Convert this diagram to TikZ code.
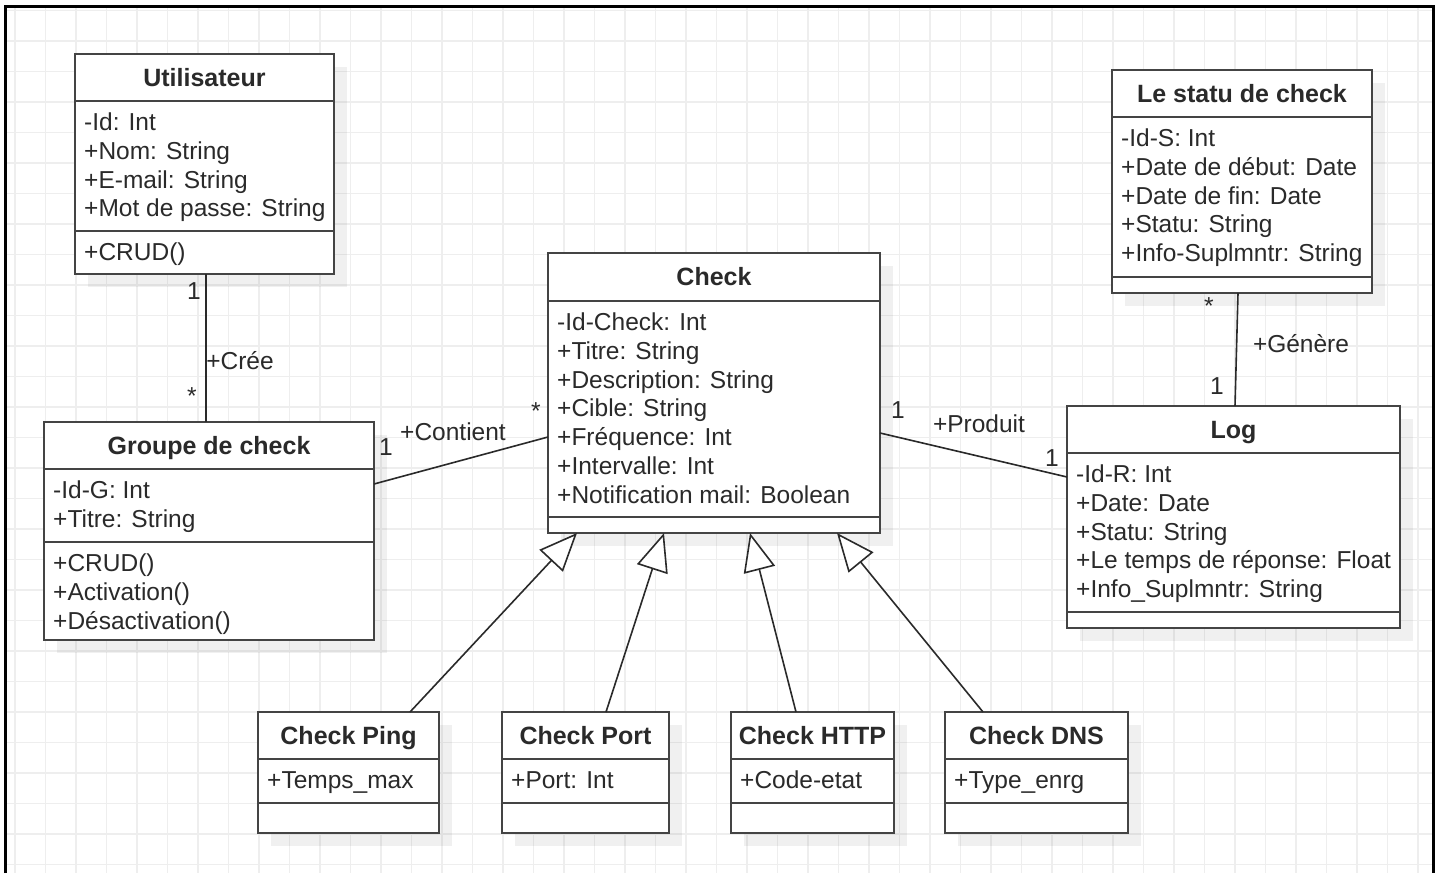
\documentclass[tikz,border=0pt]{standalone}
\usepackage{fontspec}
\setmainfont{Liberation Sans}
\usetikzlibrary{arrows.meta}

\definecolor{ink}{HTML}{2A2A2A}
\definecolor{edge}{HTML}{444444}
\definecolor{gridc}{HTML}{EEEEEE}

\tikzset{
  classbox/.style={draw=edge, line width=2.2pt, fill=white, anchor=north west, inner sep=0pt, outer sep=0pt},
  shadowbox/.style={fill=black, opacity=0.06},
  divider/.style={draw=edge, line width=2.2pt},
  titletext/.style={font=\fontsize{25}{30}\selectfont\bfseries, text=ink, anchor=base, inner sep=0pt},
  rowtext/.style={font=\fontsize{24.5}{29}\selectfont, text=ink, anchor=base west, inner sep=0pt},
  lbl/.style={font=\fontsize{24.5}{29}\selectfont, text=ink, inner sep=0pt},
  assoc/.style={draw=ink, line width=1.6pt},
  generalize/.style={draw=ink, line width=1.6pt,
    -{Triangle[length=38pt, width=32pt, fill=white, line width=1.6pt]}},
  gridline/.style={draw=gridc, line width=1.6pt},
  frameline/.style={draw=black, line width=3pt},
}

% class box: name, left, top, right, bottom, first divider, second divider, title
\newcommand\umlbox[8]{%
  \fill[shadowbox] (#2+13,#3+13) rectangle (#4+13,#5+13);
  \node[classbox, minimum width={(#4-#2)*1pt}, minimum height={(#5-#3)*1pt}] (#1) at (#2,#3) {};
  \draw[divider] (#2,#6) -- (#4,#6);
  \draw[divider] (#2,#7) -- (#4,#7);
  \node[titletext] (#1-title) at ({(#2+#4)/2},{(#3+#6)/2+8.5}) {#8};
}
% compartment rows: name prefix, box left, compartment top, list of rows
\newcommand\umlrows[4]{%
  \foreach \txt [count=\i] in {#4} {\node[rowtext] (#1\i) at (#2+9, {#3+29.5+(\i-1)*28.8}) {\txt};}
}

\begin{document}
\begin{tikzpicture}[x=1pt, y=-1pt]
\useasboundingbox (0,0) rectangle (1440,873);
\fill[white] (0,0) rectangle (1440,873);

% background grid and frame
\foreach \k in {0,...,46} \draw[gridline] ({15+30.5*\k},6) -- ({15+30.5*\k},873);
\foreach \k in {0,...,28} \draw[gridline] (5,{10.5+30.5*\k}) -- (1433,{10.5+30.5*\k});
\draw[frameline] (5,873) -- (5,6) -- (1433,6) -- (1433,873);

% classes
\umlbox{user}{75}{54}{334}{274}{101}{231}{Utilisateur}
\umlrows{user-a}{75}{101}{-Id: Int, +Nom: String, +E-mail: String, +Mot de passe: String}
\umlrows{user-m}{75}{231}{+CRUD()}

\umlbox{grp}{44}{422}{374}{640}{469}{542}{Groupe de check}
\umlrows{grp-a}{44}{469}{-Id-G: Int, +Titre: String}
\umlrows{grp-m}{44}{542}{+CRUD(), +Activation(), +Désactivation()}

\umlbox{check}{548}{253}{880}{533}{301}{517}{Check}
\umlrows{check-a}{548}{301}{-Id-Check: Int, +Titre: String, +Description: String, +Cible: String, +Fréquence: Int, +Intervalle: Int, +Notification mail: Boolean}

\umlbox{statu}{1112}{70}{1372}{293}{117}{277}{Le statu de check}
\umlrows{statu-a}{1112}{117}{-Id-S: Int, +Date de début: Date, +Date de fin: Date, +Statu: String, +Info-Suplmntr: String}

\umlbox{log}{1067}{406}{1400}{628}{453}{612}{Log}
\umlrows{log-a}{1067}{453}{-Id-R: Int, +Date: Date, +Statu: String, +Le temps de réponse: Float, +Info\_Suplmntr: String}

\umlbox{ping}{258}{712}{439}{833}{759}{803}{Check Ping}
\umlrows{ping-a}{258}{759}{+Temps\_max}
\umlbox{port}{502}{712}{669}{833}{759}{803}{Check Port}
\umlrows{port-a}{502}{759}{+Port: Int}
\umlbox{http}{731}{712}{894}{833}{759}{803}{Check HTTP}
\umlrows{http-a}{731}{759}{+Code-etat}
\umlbox{dns}{945}{712}{1128}{833}{759}{803}{Check DNS}
\umlrows{dns-a}{945}{759}{+Type\_enrg}

% associations
\draw[assoc] ([xshift=1.5pt]user.south) -- ([xshift=-3pt]grp.north);
\draw[assoc] ([yshift=47pt]grp.east) -- ([yshift=-44pt]check.west);
\draw[assoc] ([yshift=-40pt]check.east) -- ([yshift=40pt]log.west);
\draw[assoc] ([xshift=-4pt]statu.south) -- ([xshift=1.5pt]log.north);

% generalizations
\draw[generalize] ([xshift=61.5pt]ping.north) -- ([xshift=-137pt]check.south);
\draw[generalize] ([xshift=20.5pt]port.north) -- ([xshift=-50pt]check.south);
\draw[generalize] ([xshift=-16.5pt]http.north) -- ([xshift=36pt]check.south);
\draw[generalize] ([xshift=-53.5pt]dns.north) -- ([xshift=123pt]check.south);

% multiplicities and role names
\node[lbl] (m-user) at (194,291) {1};
\node[lbl] (l-cree) at (240,361) {+Crée};
\node[lbl] (m-grp-top) at (192,396) {*};
\node[lbl] (m-grp-right) at (386,447) {1};
\node[lbl] (l-contient) at (453,432) {+Contient};
\node[lbl] (m-check-left) at (536,411) {*};
\node[lbl] (m-check-right) at (898,410) {1};
\node[lbl] (l-produit) at (979,424) {+Produit};
\node[lbl] (m-log-left) at (1052,458) {1};
\node[lbl] (m-statu) at (1209,306) {*};
\node[lbl] (l-genere) at (1301,344) {+Génère};
\node[lbl] (m-log-top) at (1217,386) {1};
\end{tikzpicture}
\end{document}
